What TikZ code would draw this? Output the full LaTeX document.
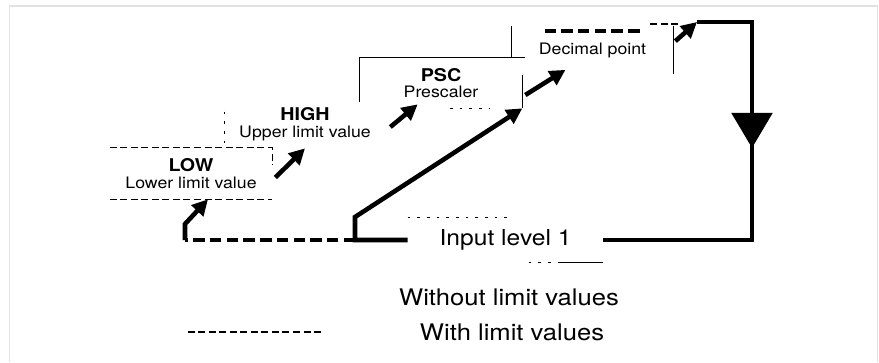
\documentclass[tikz,border=0pt]{standalone}
\usepackage{fontspec}
\setmainfont{TeX Gyre Heros}[FakeStretch=1.12]
\usepackage{tikz}
\usetikzlibrary{arrows.meta, positioning, calc, decorations.markings}
\definecolor{framegray}{RGB}{226,226,226}

\begin{document}
\begin{tikzpicture}[
    x=0.02cm, y=-0.02cm,
    parbox/.style={rectangle, align=center, inner sep=0pt, font=\fontsize{9}{9.5}\selectfont},
    legend/.style={inner sep=0pt, font=\fontsize{13}{15}\selectfont},
    edge/.style={line width=0.9pt},
    edgedash/.style={line width=0.9pt, dash pattern=on 4pt off 2pt},
    edgedot/.style={line width=0.9pt, dash pattern=on 1.5pt off 4pt},
    flow/.style={line width=2.6pt},
    flowdash/.style={line width=2.6pt, dash pattern=on 6.5pt off 3pt},
    arrow/.style={line width=2.6pt, -{Triangle[length=9pt, width=9pt]}}
]
\useasboundingbox (0,0) rectangle (879,362);
\draw[framegray, line width=0.8pt] (9.5,362) -- (9.5,6) -- (877.5,6) -- (877.5,362);

% parameter steps
\node[parbox, minimum width=3.24cm, minimum height=1.02cm] (low) at (191,173.5) {{\bfseries\fontsize{10}{10}\selectfont LOW}\\Lower limit value};
\node[parbox, minimum width=3.2cm, minimum height=0.96cm] (high) at (305,124) {{\bfseries\fontsize{10}{10}\selectfont HIGH}\\Upper limit value};
\node[parbox, minimum width=3.24cm, minimum height=1.0cm] (psc) at (441,83) {{\bfseries\fontsize{10}{10}\selectfont PSC}\\Prescaler};
\node[parbox, minimum width=3.22cm, minimum height=0.94cm] (dp) at (592.5,50) {Decimal point};
\node[parbox, minimum width=3.9cm, minimum height=0.88cm, font=\fontsize{12.5}{14}\selectfont] (input) at (505.5,240) {Input level 1};

% legend
\node[legend] (without) at (509,297) {Without limit values};
\node[legend] (with) at (512,332) {With limit values};

% step outlines
\draw[edgedash] (low.south west) -- (low.south east);
\draw[edgedash] (low.north west) -- (low.north east) -- ++(0,17);
\draw[edgedot] (high.north west) ++(0,12) -- (high.south west);
\draw[edge] (psc.south west) ++(0,-6) -- (psc.north west) -- ($(psc.north east)+(3,0)$);
\draw[edge] (psc.north east) ++(0,17) -- (psc.south east);
\draw[edgedot] (psc.south) ++(9,0) -- ++(40,0);
\draw[edge] (dp.north west) -- (dp.north west |- psc.north);
\draw[edge] (dp.north east) -- (dp.south east);
\draw[flowdash] ($(dp.north west)+(33,5)$) -- ($(dp.north west)+(128,5)$);
\draw[edgedash] ($(dp.north east)+(-23,-2)$) -- ($(dp.north east)+(7,-2)$);
\draw[edgedot] (input.north west) -- ++(100,0);
\draw[edge] (input.south east) -- ++(-43,0);
\draw[edgedot] ($(input.south east)+(-43,0)$) -- ++(-37,0);

% flows
\coordinate (split) at (355,240);
\coordinate (lowturn) at (185,240);
\coordinate (loopstart) at (697,22);
\coordinate (ne) at (752,22);
\coordinate (se) at (752,240);

\draw[arrow] (input.west) -- (split) -- ++(0,-23) -- (psc.south east);
\draw[flowdash] (split) -- (lowturn);
\draw[arrow] (lowturn) -- ++(0,-16) -- ($(low.south)+(17,0)$);
\draw[arrow] ($(low.east)+(3,4)$) -- (high.south);
\draw[arrow] ($(high.east)+(5,3)$) -- ($(psc.south west)+(58,-4)$);
\draw[arrow] ($(psc.east)+(3,12)$) -- ($(dp.south)+(-27,-4)$);
\draw[arrow] ($(dp.north east)+(2,15)$) -- (loopstart);
\draw[flow, postaction={decorate}, decoration={markings,
    mark=at position 3.62cm with {\arrow{Triangle[length=20pt, width=23pt]}}}]
    (loopstart) -- (ne) -- (se) -- (input.east);

\draw[edgedash] ($(with.west)+(-232,0)$) -- ($(with.west)+(-99,0)$);
\end{tikzpicture}
\end{document}
